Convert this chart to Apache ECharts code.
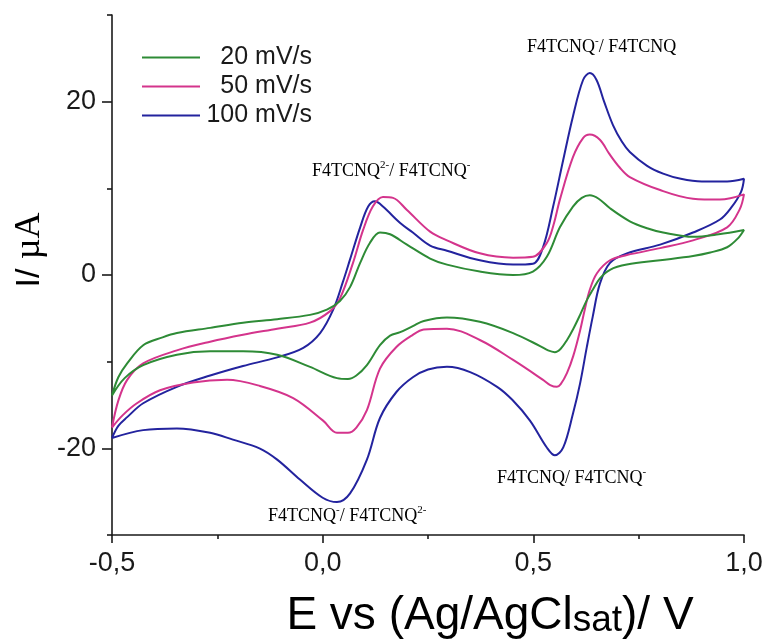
<!DOCTYPE html>
<html>
<head>
<meta charset="utf-8">
<script src="https://cdn.jsdelivr.net/npm/echarts@6.0.0/dist/echarts.min.js"></script>
<style>
  html, body { margin: 0; padding: 0; background: #fff; }
  #chart { width: 768px; height: 639px; }
</style>
</head>
<body>
<div id="chart"></div>
<script>
// scan rates (legend)
const scanRates = ['20 mV/s', '50 mV/s', '100 mV/s'];
const lineColors = ['#2e8b36', '#d4348c', '#23239e'];

// [E / V, I / uA], forward scan then reverse scan
const cv20 = [
  [-0.500, -13.9], [-0.485, -11.8], [-0.464, -10.2], [-0.426, -8.1], [-0.380, -7.2], [-0.346, -6.7],
  [-0.267, -6.1], [-0.189, -5.5], [-0.108, -5.1], [-0.030, -4.6], [0.010, -4.0], [0.041, -3.0],
  [0.065, -1.4], [0.089, 1.4], [0.112, 3.7], [0.136, 4.9], [0.160, 4.7], [0.200, 3.5], [0.255, 1.9],
  [0.295, 1.2], [0.373, 0.4], [0.452, 0.0], [0.499, 0.4], [0.532, 2.1], [0.563, 5.5], [0.594, 7.9],
  [0.615, 8.9], [0.634, 9.2], [0.655, 8.8], [0.682, 7.7], [0.729, 6.2], [0.770, 5.4], [0.808, 4.9],
  [0.879, 4.4], [0.940, 4.7], [1.000, 5.2],
  [0.985, 4.2], [0.960, 3.2], [0.920, 2.6], [0.879, 2.2], [0.801, 1.7], [0.722, 1.2], [0.682, 0.6],
  [0.658, -0.4], [0.640, -1.8], [0.627, -2.9], [0.611, -4.6], [0.595, -6.2], [0.580, -7.5],
  [0.565, -8.5], [0.551, -8.9], [0.535, -8.7], [0.516, -8.2], [0.452, -6.7], [0.373, -5.4],
  [0.295, -4.9], [0.240, -5.3], [0.214, -5.9], [0.184, -6.6], [0.160, -7.0], [0.136, -8.1],
  [0.105, -10.4], [0.080, -11.6], [0.060, -12.0], [0.034, -11.9], [-0.030, -10.6], [-0.108, -9.2],
  [-0.189, -8.8], [-0.267, -8.8], [-0.346, -9.2], [-0.426, -10.4], [-0.470, -11.9], [-0.500, -13.9]
];

const cv50 = [
  [-0.500, -17.6], [-0.485, -14.5], [-0.464, -12.1], [-0.426, -10.2], [-0.346, -8.7], [-0.267, -7.7],
  [-0.189, -6.9], [-0.108, -6.2], [-0.030, -5.5], [0.017, -4.2], [0.041, -2.7], [0.072, 1.4],
  [0.096, 5.2], [0.119, 7.9], [0.143, 9.0], [0.167, 8.9], [0.200, 7.5], [0.255, 5.0], [0.295, 4.0],
  [0.373, 2.5], [0.452, 2.0], [0.499, 2.1], [0.532, 3.7], [0.548, 5.8], [0.563, 8.7], [0.594, 13.6],
  [0.618, 15.8], [0.634, 16.2], [0.658, 15.6], [0.680, 14.0], [0.705, 12.4], [0.729, 11.3],
  [0.801, 9.8], [0.879, 8.8], [0.943, 8.7], [1.000, 9.3],
  [0.990, 7.6], [0.960, 5.5], [0.879, 4.0], [0.801, 3.1], [0.722, 2.3], [0.682, 1.7], [0.651, 0.2],
  [0.634, -1.7], [0.622, -4.0], [0.611, -6.4], [0.595, -9.3], [0.580, -11.3], [0.565, -12.6],
  [0.556, -12.9], [0.540, -12.7], [0.523, -12.1], [0.452, -9.8], [0.373, -7.5], [0.295, -6.2],
  [0.240, -6.3], [0.214, -6.9], [0.175, -8.3], [0.136, -10.8], [0.105, -15.6], [0.080, -17.6],
  [0.060, -18.2], [0.034, -18.2], [0.001, -16.8], [-0.070, -14.2], [-0.149, -12.8], [-0.227, -12.1],
  [-0.308, -12.4], [-0.386, -13.3], [-0.441, -14.8], [-0.475, -16.2], [-0.500, -17.6]
];

const cv100 = [
  [-0.500, -18.8], [-0.485, -17.4], [-0.464, -16.4], [-0.426, -14.8], [-0.346, -12.9], [-0.267, -11.6],
  [-0.189, -10.5], [-0.108, -9.5], [-0.046, -8.4], [-0.006, -6.7], [0.025, -4.0], [0.048, -0.8],
  [0.065, 1.8], [0.089, 5.5], [0.108, 7.9], [0.124, 8.5], [0.143, 7.9], [0.184, 6.0], [0.214, 4.9],
  [0.255, 3.4], [0.295, 2.8], [0.373, 1.7], [0.452, 1.2], [0.499, 1.3], [0.523, 3.2], [0.547, 7.9],
  [0.571, 13.3], [0.594, 18.3], [0.618, 22.5], [0.634, 23.3], [0.650, 22.5], [0.668, 20.0],
  [0.689, 17.3], [0.710, 15.4], [0.729, 14.2], [0.770, 12.6], [0.808, 11.7], [0.850, 11.1],
  [0.900, 10.8], [0.960, 10.8], [1.000, 11.1],
  [0.993, 9.6], [0.970, 7.8], [0.943, 6.4], [0.879, 4.9], [0.801, 3.5], [0.722, 2.5], [0.682, 1.4],
  [0.658, -1.0], [0.641, -4.8], [0.627, -8.3], [0.611, -12.5], [0.594, -16.0], [0.571, -19.9],
  [0.551, -20.8], [0.532, -19.9], [0.492, -16.8], [0.450, -14.4], [0.414, -12.9], [0.350, -11.2],
  [0.295, -10.6], [0.250, -10.9], [0.214, -11.8], [0.175, -13.5], [0.136, -16.5], [0.105, -21.3],
  [0.065, -25.2], [0.034, -26.2], [0.000, -25.7], [-0.054, -23.6], [-0.108, -21.3], [-0.150, -20.0],
  [-0.213, -19.0], [-0.267, -18.2], [-0.346, -17.7], [-0.426, -17.9], [-0.500, -18.8]
];

const cvData = [cv20, cv50, cv100];

// ticks
const xMajor = [-0.5, 0, 0.5, 1.0];
const xMinor = [-0.25, 0.25, 0.75];
const yMajor = [-20, 0, 20];
const yMinor = [-30, -10, 10, 30];

const axisColor = '#1a1a1a';
const sans = '"Liberation Sans", Arial, sans-serif';
const serif = '"Liberation Serif", "Times New Roman", serif';

function fmtComma(v) {
  return v.toFixed(1).replace('.', ',');
}

const baseAxis = {
  type: 'value',
  splitLine: { show: false },
  axisLine: { show: true, onZero: false, lineStyle: { color: axisColor, width: 1.6 } },
};

// peak labels
const supRich = {
  t: { fontFamily: serif, fontSize: 18, color: '#222', lineHeight: 20, verticalAlign: 'bottom' },
  s: { fontFamily: serif, fontSize: 11, color: '#222', lineHeight: 20, verticalAlign: 'top', padding: [0, 0, 9, 0] },
};
function peakLabel(x, y, text) {
  return {
    type: 'text',
    left: x, top: y,
    style: { text, rich: supRich, align: 'left', verticalAlign: 'top' },
  };
}

const chart = echarts.init(document.getElementById('chart'));
chart.setOption({
  animation: false,
  backgroundColor: '#fff',
  grid: { left: 112, right: 24, top: 15, bottom: 104, containLabel: false },
  legend: {
    data: scanRates,
    orient: 'vertical',
    left: 137,
    top: 40,
    icon: 'rect',
    itemWidth: 58,
    itemHeight: 2,
    itemGap: 4,
    formatter: (name) => '{a|' + name + '}',
    textStyle: {
      rich: { a: { width: 107, align: 'right', fontSize: 25, fontFamily: sans, color: axisColor } },
    },
  },
  xAxis: [
    {
      ...baseAxis,
      min: -0.5,
      max: 1.0,
      axisTick: { show: true, customValues: xMajor, length: 8, lineStyle: { color: axisColor, width: 1.6 } },
      axisLabel: {
        customValues: xMajor, formatter: fmtComma, margin: 15,
        fontSize: 27, fontFamily: sans, color: axisColor,
      },
    },
    {
      ...baseAxis,
      position: 'bottom',
      min: -0.5,
      max: 1.0,
      axisLine: { show: false, onZero: false },
      axisTick: { show: true, customValues: xMinor, length: 4, lineStyle: { color: axisColor, width: 1.6 } },
      axisLabel: { show: false },
    },
  ],
  yAxis: [
    {
      ...baseAxis,
      min: -30,
      max: 30,
      axisTick: { show: true, customValues: yMajor, length: 10, lineStyle: { color: axisColor, width: 1.6 } },
      axisLabel: {
        customValues: yMajor, margin: 16,
        fontSize: 27, fontFamily: sans, color: axisColor,
      },
    },
    {
      ...baseAxis,
      position: 'left',
      min: -30,
      max: 30,
      axisLine: { show: false, onZero: false },
      axisTick: { show: true, customValues: yMinor, length: 5, lineStyle: { color: axisColor, width: 1.6 } },
      axisLabel: { show: false },
    },
  ],
  series: scanRates.map((name, i) => ({
    name,
    type: 'line',
    xAxisIndex: 0,
    yAxisIndex: 0,
    data: cvData[i],
    smooth: 0.35,
    symbol: 'none',
    color: lineColors[i],
    lineStyle: { color: lineColors[i], width: 2 },
    z: 3 - i,
  })),
  graphic: [
    {
      type: 'text',
      x: 30, y: 250,
      rotation: Math.PI / 2,
      style: {
        text: '{a|I/ }{b|\u00b5A}',
        align: 'center', verticalAlign: 'middle',
        rich: {
          a: { fontFamily: sans, fontSize: 34, color: axisColor },
          b: { fontFamily: serif, fontSize: 36, color: axisColor },
        },
      },
    },
    {
      type: 'text',
      x: 490, y: 614,
      style: {
        text: '{m|E vs (Ag/AgCl}{s|sat}{m|)/ V}',
        align: 'center', verticalAlign: 'middle',
        rich: {
          m: { fontFamily: sans, fontSize: 46, lineHeight: 50, verticalAlign: 'bottom', color: axisColor },
          s: { fontFamily: sans, fontSize: 37, lineHeight: 48, verticalAlign: 'bottom', color: axisColor },
        },
      },
    },
    peakLabel(527, 36, '{t|F4TCNQ}{s|-}{t|/ F4TCNQ}'),
    peakLabel(312, 160, '{t|F4TCNQ}{s|2-}{t|/ F4TCNQ}{s|-}'),
    peakLabel(497, 467, '{t|F4TCNQ/ F4TCNQ}{s|-}'),
    peakLabel(268, 505, '{t|F4TCNQ}{s|-}{t|/ F4TCNQ}{s|2-}'),
  ],
});
</script>
</body>
</html>
